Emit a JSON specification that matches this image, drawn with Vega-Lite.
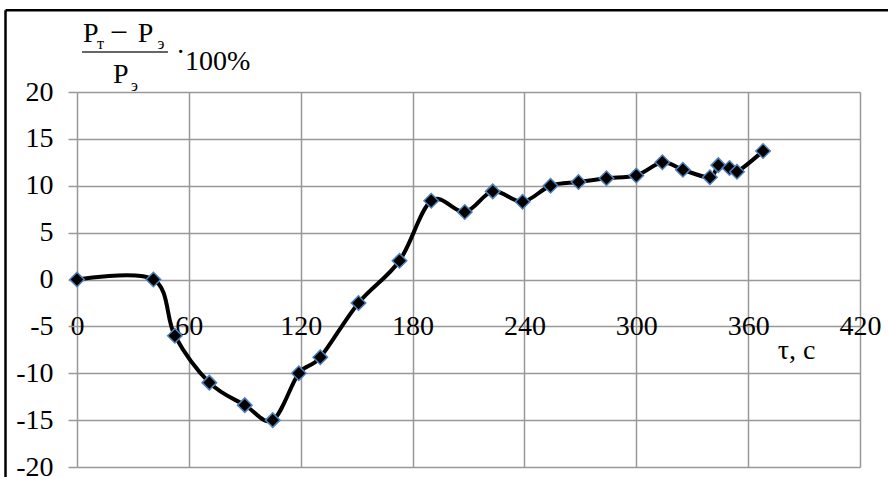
{
  "$schema": "https://vega.github.io/schema/vega-lite/v6.json",
  "width": 783,
  "height": 375,
  "autosize": {"type": "none"},
  "padding": {"left": 77, "top": 92, "right": 28, "bottom": 10},
  "background": "white",
  "config": {"view": {"stroke": null}, "font": "Liberation Serif"},
  "data": {
    "values": [
      {"t": 0, "d": 0},
      {"t": 41, "d": 0},
      {"t": 52.5, "d": -6},
      {"t": 71, "d": -11},
      {"t": 90, "d": -13.4},
      {"t": 105, "d": -15},
      {"t": 119, "d": -10},
      {"t": 130.5, "d": -8.3},
      {"t": 151, "d": -2.5},
      {"t": 173, "d": 2},
      {"t": 190, "d": 8.4},
      {"t": 208, "d": 7.2},
      {"t": 223, "d": 9.4},
      {"t": 239, "d": 8.3},
      {"t": 254, "d": 10},
      {"t": 269, "d": 10.4},
      {"t": 284, "d": 10.8},
      {"t": 300, "d": 11.1},
      {"t": 314, "d": 12.5},
      {"t": 325, "d": 11.7},
      {"t": 339.5, "d": 10.9},
      {"t": 344, "d": 12.2},
      {"t": 350, "d": 11.9},
      {"t": 354, "d": 11.5},
      {"t": 368, "d": 13.7}
    ]
  },
  "layer": [
    {
      "mark": {"type": "line", "interpolate": "cardinal", "color": "black", "strokeWidth": 4},
      "encoding": {
        "x": {
          "field": "t", "type": "quantitative",
          "scale": {"domain": [0, 420], "nice": false, "zero": false},
          "axis": {
            "values": [0, 60, 120, 180, 240, 300, 360, 420],
            "grid": true, "gridColor": "#999999", "gridWidth": 1.5,
            "domain": false, "ticks": false, "tickSize": 0,
            "labelPadding": 0, "labelBaseline": "middle", "offset": -141,
            "labelFontSize": 28, "labelColor": "black", "labelFont": "Liberation Serif",
            "labelFlush": false, "labelOverlap": false,
            "title": "τ, c", "titleX": 719, "titleY": 24, "titleFontSize": 28,
            "titleFontWeight": "normal", "titleBaseline": "middle", "titleAlign": "center",
            "titleColor": "black", "titleFont": "Liberation Serif"
          }
        },
        "y": {
          "field": "d", "type": "quantitative",
          "scale": {"domain": [-20, 20], "nice": false, "zero": false},
          "axis": {
            "values": [-20, -15, -10, -5, 0, 5, 10, 15, 20],
            "grid": true, "gridColor": "#999999", "gridWidth": 1.5,
            "domain": false, "ticks": true, "tickSize": 9, "tickColor": "#999999", "tickWidth": 1.5,
            "labelPadding": 15, "labelFontSize": 28, "labelColor": "black", "labelFont": "Liberation Serif",
            "labelExpr": "'' + datum.value", "labelFlush": false, "labelOverlap": false,
            "title": null
          }
        }
      }
    },
    {
      "mark": {"type": "point", "shape": "diamond", "filled": true, "fill": "black", "stroke": "#4F81BD", "strokeWidth": 1.5, "size": 210, "opacity": 1},
      "encoding": {
        "x": {"field": "t", "type": "quantitative"},
        "y": {"field": "d", "type": "quantitative"}
      }
    },
    {
      "data": {"values": [{"s": "P"}]},
      "mark": {"type": "text", "align": "left", "baseline": "alphabetic", "fontSize": 28, "color": "black"},
      "encoding": {"x": {"datum": 3.2}, "y": {"datum": 25.33}, "text": {"field": "s"}}
    },
    {
      "data": {"values": [{"s": "т"}]},
      "mark": {"type": "text", "align": "left", "baseline": "alphabetic", "fontSize": 16, "color": "black"},
      "encoding": {"x": {"datum": 10.7}, "y": {"datum": 24.59}, "text": {"field": "s"}}
    },
    {
      "data": {"values": [{"s": "−"}]},
      "mark": {"type": "text", "align": "left", "baseline": "alphabetic", "fontSize": 32, "color": "black"},
      "encoding": {"x": {"datum": 17.6}, "y": {"datum": 25.25}, "text": {"field": "s"}}
    },
    {
      "data": {"values": [{"s": "P"}]},
      "mark": {"type": "text", "align": "left", "baseline": "alphabetic", "fontSize": 28, "color": "black"},
      "encoding": {"x": {"datum": 32.6}, "y": {"datum": 25.33}, "text": {"field": "s"}}
    },
    {
      "data": {"values": [{"s": "э"}]},
      "mark": {"type": "text", "align": "left", "baseline": "alphabetic", "fontSize": 16, "color": "black"},
      "encoding": {"x": {"datum": 43.2}, "y": {"datum": 24.59}, "text": {"field": "s"}}
    },
    {
      "data": {"values": [{}]},
      "mark": {"type": "rule", "color": "#333333", "strokeWidth": 1.5},
      "encoding": {"x": {"datum": 2.7}, "x2": {"datum": 48.8}, "y": {"datum": 24.27}}
    },
    {
      "data": {"values": [{"s": "·"}]},
      "mark": {"type": "text", "align": "left", "baseline": "alphabetic", "fontSize": 28, "color": "black"},
      "encoding": {"x": {"datum": 53.1}, "y": {"datum": 23.31}, "text": {"field": "s"}}
    },
    {
      "data": {"values": [{"s": "100%"}]},
      "mark": {"type": "text", "align": "left", "baseline": "alphabetic", "fontSize": 28, "color": "black"},
      "encoding": {"x": {"datum": 57.9}, "y": {"datum": 22.35}, "text": {"field": "s"}}
    },
    {
      "data": {"values": [{"s": "P"}]},
      "mark": {"type": "text", "align": "left", "baseline": "alphabetic", "fontSize": 28, "color": "black"},
      "encoding": {"x": {"datum": 19.3}, "y": {"datum": 20.96}, "text": {"field": "s"}}
    },
    {
      "data": {"values": [{"s": "э"}]},
      "mark": {"type": "text", "align": "left", "baseline": "alphabetic", "fontSize": 16, "color": "black"},
      "encoding": {"x": {"datum": 29.0}, "y": {"datum": 20.1}, "text": {"field": "s"}}
    },
    {
      "data": {"values": [{}]},
      "mark": {"type": "rule", "color": "black", "strokeWidth": 2.5},
      "encoding": {"x": {"datum": -38.35}, "y": {"datum": 28.71}, "y2": {"datum": -25}}
    },
    {
      "data": {"values": [{}]},
      "mark": {"type": "rule", "color": "black", "strokeWidth": 2.5},
      "encoding": {"x": {"datum": -38.35}, "x2": {"datum": 460}, "y": {"datum": 28.71}}
    }
  ]
}
